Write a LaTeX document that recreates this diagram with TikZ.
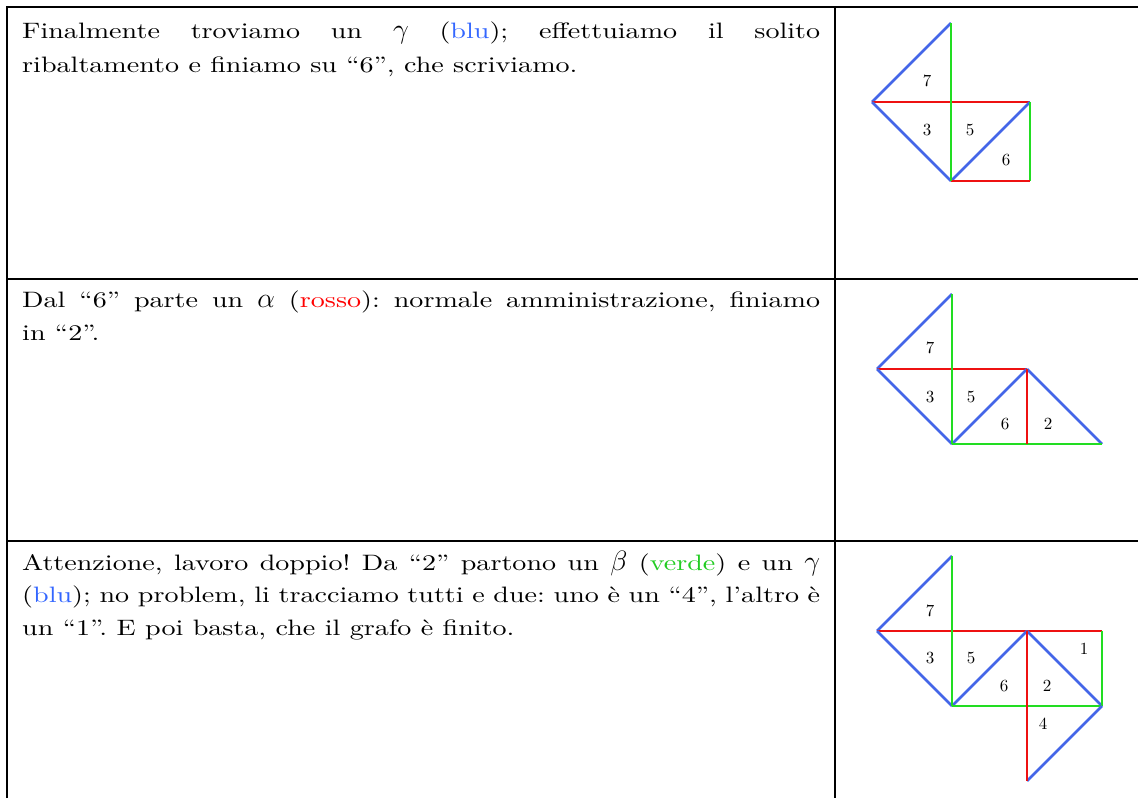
\RequirePackage{fix-cm}
\documentclass[tikz,border=0pt]{standalone}
\usepackage{fontspec}
\setmainfont{lmroman10-regular.otf}[FakeStretch=1.26]
\newfontfamily\labfont{lmroman10-regular.otf}
\definecolor{lblue}{HTML}{4466E8}
\definecolor{lred}{HTML}{EE1111}
\definecolor{lgreen}{HTML}{22DD22}
\definecolor{tblue}{HTML}{3366FF}
\definecolor{tred}{HTML}{FF0000}
\definecolor{tgreen}{HTML}{22CC22}
\newcommand{\gk}[1]{{\fontsize{28}{28}\selectfont$#1$}}
\tikzset{
  frame/.style={line width=2.5pt, black},
  eb/.style={lblue, line width=2.6pt},
  er/.style={lred, line width=2.6pt},
  eg/.style={lgreen, line width=2.6pt},
  lab/.style={font=\labfont\fontsize{17}{17}\selectfont, inner sep=0},
  txt/.style={font=\fontsize{22.3}{26}\selectfont\frenchspacing, inner sep=0, anchor=base west}
}
\begin{document}
\frenchspacing
\begin{tikzpicture}[x=1pt,y=-1pt]
\useasboundingbox (0,0) rectangle (1138,798);
% table
\draw[frame] (7,798) -- (7,7) -- (1138,7);
\draw[frame] (835,7) -- (835,798);
\draw[frame] (7,279) -- (1138,279);
\draw[frame] (7,541) -- (1138,541);
% texts
\node[txt] (r1a) at (22,38) {\hbox to 798pt{Finalmente troviamo un \gk{\gamma} (\textcolor{tblue}{blu}); effettuiamo il solito}};
\node[txt] (r1b) at (22,72) {ribaltamento e finiamo su “6”, che scriviamo.};
\node[txt] (r2a) at (22,307) {\hbox to 798pt{Dal “6” parte un \gk{\alpha} (\textcolor{tred}{rosso}): normale amministrazione, finiamo}};
\node[txt] (r2b) at (22,340) {in “2”.};
\node[txt] (r3a) at (22,570) {\hbox to 798pt{Attenzione, lavoro doppio! Da “2” partono un \gk{\beta} (\textcolor{tgreen}{verde}) e un \gk{\gamma}}};
\node[txt] (r3b) at (22,602.5) {\hbox to 798pt{(\textcolor{tblue}{blu}); no problem, li tracciamo tutti e due: uno è un “4”, l’altro è}};
\node[txt] (r3c) at (22,635) {un “1”. E poi basta, che il grafo è finito.};
% figure 1
\coordinate (aT) at (951,23);
\coordinate (aL) at (872,102);
\coordinate (aR) at (1030,102);
\coordinate (aB) at (951,181);
\coordinate (aBR) at (1030,181);
\draw[eb] (aL) -- (aT);
\draw[er] (aL) -- (aR);
\draw[eb] (aL) -- (aB);
\draw[eb] (aB) -- (aR);
\draw[eg] (aR) -- (aBR);
\draw[er] (aB) -- (aBR);
\draw[eg] (aT) -- (aB);
\node[lab] (a7) at (927,81) {7};
\node[lab] (a3) at (927,130) {3};
\node[lab] (a5) at (970,130) {5};
\node[lab] (a6) at (1006,160) {6};
% figure 2
\coordinate (bT) at (952,294);
\coordinate (bL) at (877,369);
\coordinate (bR) at (1027,369);
\coordinate (bB) at (952,444);
\coordinate (bBM) at (1027,444);
\coordinate (bFR) at (1102,444);
\draw[eb] (bL) -- (bT);
\draw[er] (bL) -- (bR);
\draw[eb] (bL) -- (bB);
\draw[eb] (bB) -- (bR);
\draw[eb] (bR) -- (bFR);
\draw[eg] (bB) -- (bFR);
\draw[er] (bR) -- (bBM);
\draw[eg] (bT) -- (bB);
\node[lab] (b7) at (930,348) {7};
\node[lab] (b3) at (930,397) {3};
\node[lab] (b5) at (971,397) {5};
\node[lab] (b6) at (1005,424) {6};
\node[lab] (b2) at (1048,424) {2};
% figure 3
\coordinate (cT) at (952,556);
\coordinate (cL) at (877,631);
\coordinate (cM) at (1027,631);
\coordinate (cRT) at (1102,631);
\coordinate (cB) at (952,706);
\coordinate (cBR) at (1102,706);
\coordinate (cBB) at (1027,781);
\draw[eb] (cL) -- (cT);
\draw[er] (cL) -- (cRT);
\draw[eb] (cL) -- (cB);
\draw[eb] (cB) -- (cM);
\draw[eb] (cM) -- (cBR);
\draw[eg] (cB) -- (cBR);
\draw[eg] (cRT) -- (cBR);
\draw[eb] (cBR) -- (cBB);
\draw[er] (cM) -- (cBB);
\draw[eg] (cT) -- (cB);
\node[lab] (c7) at (930,611) {7};
\node[lab] (c3) at (930,658) {3};
\node[lab] (c5) at (971,658) {5};
\node[lab] (c6) at (1004,686) {6};
\node[lab] (c2) at (1047,686) {2};
\node[lab] (c1) at (1084,649) {1};
\node[lab] (c4) at (1043,724) {4};
\end{tikzpicture}
\end{document}
